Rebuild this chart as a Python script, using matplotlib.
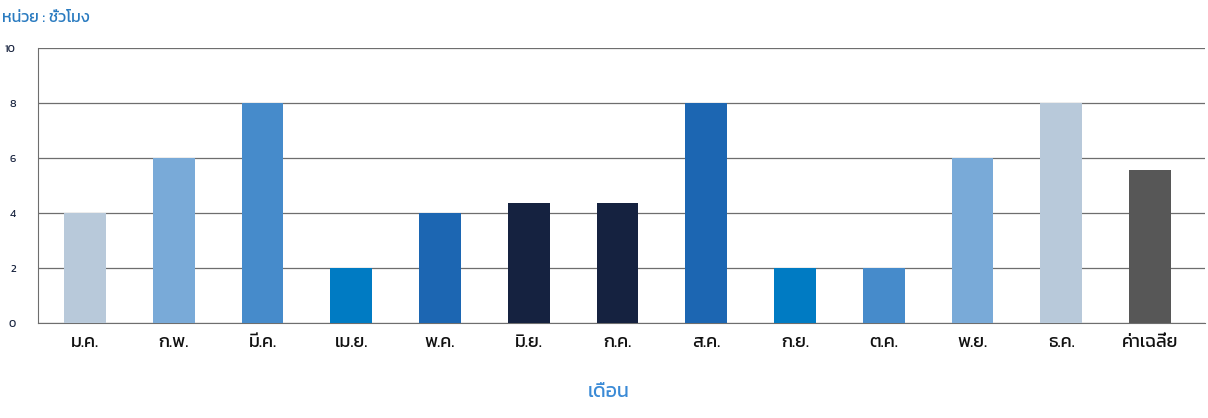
import matplotlib
matplotlib.use('Agg')
import matplotlib.pyplot as plt
from matplotlib import font_manager
from matplotlib.ft2font import FT2Font

months = ['ม.ค.', 'ก.พ.', 'มี.ค.', 'เม.ย.', 'พ.ค.', 'มิ.ย.', 'ก.ค.',
          'ส.ค.', 'ก.ย.', 'ต.ค.', 'พ.ย.', 'ธ.ค.', 'ค่าเฉลี่ย']
hours = [4, 6, 8, 2, 4, 4.35, 4.35, 8, 2, 2, 6, 8, 5.57]
colors = ['#b8c9da', '#79aad8', '#468bcb', '#007bc3', '#1c66b2', '#152240', '#152240',
          '#1c66b2', '#007bc3', '#468bcb', '#79aad8', '#b8c9da', '#575757']
yticks = [0, 2, 4, 6, 8, 10]


# find an installed font that can draw Thai, sans ones first
def thai_family():
    ok = []
    for f in font_manager.fontManager.ttflist:
        try:
            if FT2Font(f.fname).get_char_index(ord('ก')):
                ok.append(f.name)
        except Exception:
            pass
    for name in ['Kanit', 'Prompt', 'Noto Sans Thai', 'Sarabun', 'Loma', 'Garuda', 'Umpush', 'Waree']:
        if name in ok:
            return name
    return ok[0] if ok else 'DejaVu Sans'


fam = thai_family()
plt.rcParams['font.family'] = [fam, 'DejaVu Sans']

fig = plt.figure(figsize=(12.08, 4.18), dpi=100)
ax = fig.add_axes([0.0315, 0.227, 0.966, 0.658])

x = list(range(len(months)))
ax.bar(x, hours, width=0.47, color=colors, zorder=3)

ax.set_ylim(0, 10)
ax.set_xlim(-0.53, 12.62)
ax.set_yticks(yticks)
ax.set_yticklabels([str(t) for t in yticks], fontsize=8, color='#1a2540')
ax.set_xticks(x)
ax.set_xticklabels(months, fontsize=13, color='#111111')
ax.tick_params(axis='y', length=0, pad=16)
ax.tick_params(axis='x', length=0, pad=8)
ax.yaxis.grid(True, color='#6e6e6e', linewidth=0.9, zorder=1)
for s in ['top', 'right']:
    ax.spines[s].set_visible(False)
ax.spines['left'].set_color('#6e6e6e')
ax.spines['bottom'].set_color('#6e6e6e')

fig.text(0.002, 0.957, 'หน่วย : ชั่วโมง', fontsize=11.5, color='#2a7bc0', va='center')
fig.text(0.504, 0.06, 'เดือน', fontsize=14, color='#3a8ad6', ha='center', va='center')

fig.savefig('out.png', dpi=100)
